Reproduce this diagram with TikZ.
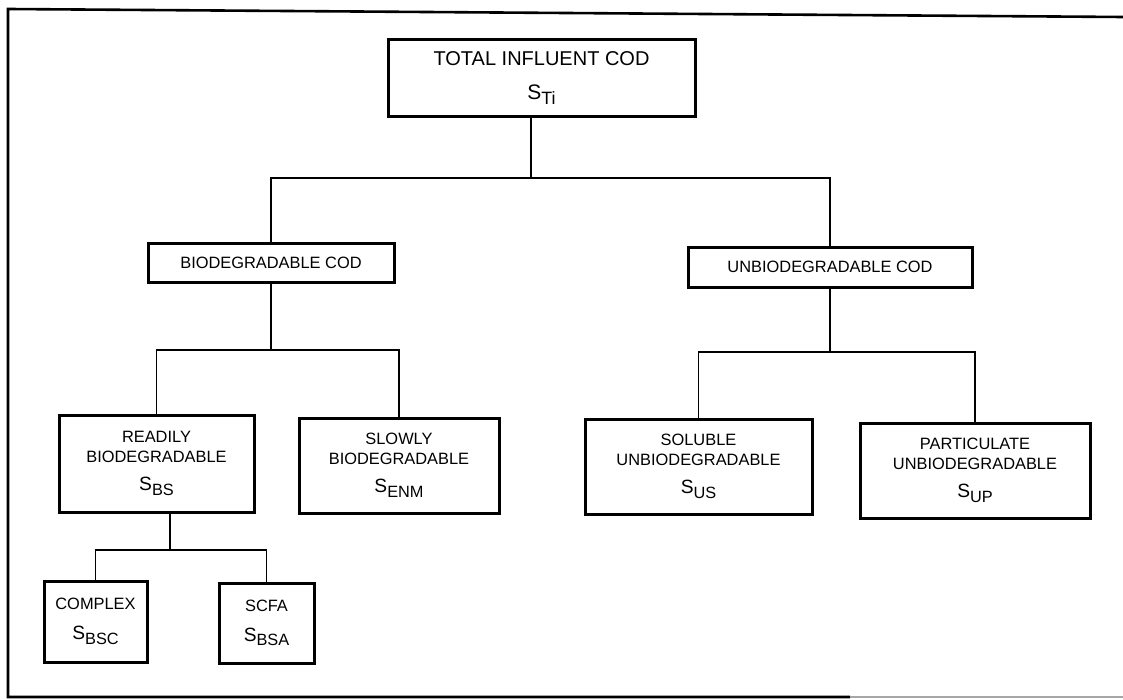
\documentclass[tikz,border=0pt]{standalone}
\usepackage{fontspec}
\usepackage{graphicx}
\setmainfont{Liberation Sans}
\newcommand\Ssub[2]{{\fontsize{#1}{#1}\selectfont S\raisebox{-0.45ex}{\scalebox{0.85}{#2}}}}
\begin{document}
\begin{tikzpicture}[x=0.5pt,y=-0.5pt,
  box/.style={draw=black,line width=1.5pt,rectangle,align=center,inner sep=0pt,
    font=\fontsize{8.2}{10}\selectfont},
  conn/.style={draw=black,line width=0.6pt},
  frame/.style={draw=black,line width=1.3pt}]
\useasboundingbox (0,0) rectangle (1123,700);
% outer frame
\draw[frame] (1123,17) -- (8,9) -- (8,697) -- (850,697);
\draw[draw=black!35,line width=0.6pt] (850,697) -- (1123,697);
% nodes
\node[box,minimum width=153.5pt,minimum height=38.5pt,font=\fontsize{10}{12}\selectfont] (top) at (541.5,78.5)
  {TOTAL INFLUENT COD\\[5pt]\Ssub{10.5}{Ti}};
\node[box,minimum width=123pt,minimum height=19.5pt] (bio) at (271,262.5) {BIODEGRADABLE COD};
\node[box,minimum width=142pt,minimum height=20pt] (unbio) at (830,267) {UNBIODEGRADABLE COD};
\node[box,minimum width=97.5pt,minimum height=48.5pt] (readily) at (156.5,463.5)
  {READILY\\BIODEGRADABLE\\[4pt]\Ssub{9.6}{BS}};
\node[box,minimum width=100pt,minimum height=47.5pt] (slowly) at (399,465.5)
  {SLOWLY\\BIODEGRADABLE\\[4pt]\Ssub{9.6}{ENM}};
\node[box,minimum width=113.5pt,minimum height=47.5pt] (soluble) at (698.5,466.5)
  {SOLUBLE\\UNBIODEGRADABLE\\[4pt]\Ssub{9.6}{US}};
\node[box,minimum width=115pt,minimum height=47.5pt] (partic) at (975,470.5)
  {PARTICULATE\\UNBIODEGRADABLE\\[4pt]\Ssub{9.6}{UP}};
\node[box,minimum width=51.5pt,minimum height=40.5pt] (complex) at (95.5,621.5)
  {COMPLEX\\[5pt]\Ssub{9.6}{BSC}};
\node[box,minimum width=47.5pt,minimum height=40pt] (scfa) at (266.5,623)
  {SCFA\\[5pt]\Ssub{9.6}{BSA}};
% junctions
\coordinate (j1) at (531,178);
\coordinate (j2) at (271,350);
\coordinate (j3) at (830,352);
\coordinate (j4) at (170,550);
% connectors
\draw[conn] ([xshift=-5.25pt]top.south) -- (j1);
\draw[conn] (bio.north) |- (j1) -| (unbio.north);
\draw[conn] (bio.south) -- (j2);
\draw[conn] (readily.north) |- (j2) -| (slowly.north);
\draw[conn] (unbio.south) -- (j3);
\draw[conn] (soluble.north) |- (j3) -| (partic.north);
\draw[conn] ([xshift=6.75pt]readily.south) -- (j4);
\draw[conn] (complex.north) |- (j4) -| (scfa.north);
\end{tikzpicture}
\end{document}
